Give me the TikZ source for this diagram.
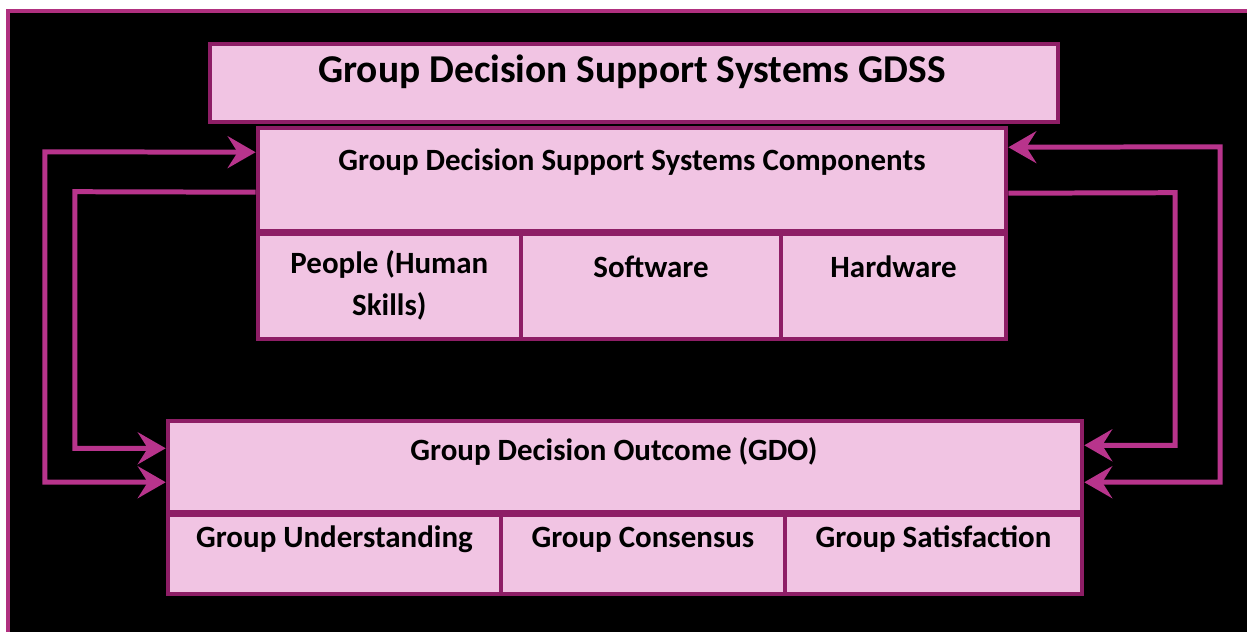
\documentclass[tikz,border=0pt]{standalone}
\usepackage{fontspec}
\setmainfont{Carlito}
\usetikzlibrary{arrows.meta}
\definecolor{frameline}{HTML}{B0307F}
\definecolor{boxfill}{HTML}{F1C4E3}
\definecolor{boxline}{HTML}{8E1E66}
\definecolor{flowline}{HTML}{B8348C}
\tikzset{
  box/.style={draw=boxline, fill=boxfill, line width=4pt, rectangle, inner sep=0pt, anchor=north west},
  txt/.style={anchor=base, text=black, inner sep=0pt, font=\bfseries\fontsize{31}{42}\selectfont},
  flow/.style={draw=flowline, line width=5pt, line join=miter},
  >={Stealth[length=28pt, width=32pt, inset=10pt]}
}
\begin{document}
\begin{tikzpicture}[x=1pt,y=-1pt]
  % page and dark panel with its framing edge
  \fill[white] (0,0) rectangle (1249,633);
  \fill[black] (8,11) rectangle (1249,633);
  \draw[frameline, line width=4pt] (8,633) -- (8,11) -- (1249,11);
  \useasboundingbox (0,0) rectangle (1249,633);

  % boxes
  \node[box, minimum width=850pt, minimum height=78pt] (title) at (208,42) {};
  \node[box, minimum width=750pt, minimum height=103pt] (comp) at (256,126.5) {};
  \node[box, minimum width=264pt, minimum height=106pt] (people) at (256,232) {};
  \node[box, minimum width=260pt, minimum height=106pt] (soft) at (520,232) {};
  \node[box, minimum width=226pt, minimum height=106pt] (hard) at (780,232) {};
  \node[box, minimum width=916pt, minimum height=91pt] (gdo) at (166,420) {};
  \node[box, minimum width=334pt, minimum height=79pt] (und) at (166,514) {};
  \node[box, minimum width=284pt, minimum height=79pt] (cons) at (500,514) {};
  \node[box, minimum width=298pt, minimum height=79pt] (sat) at (784,514) {};

  % texts (base anchor = last line's baseline)
  \node[txt, font=\bfseries\fontsize{39.5}{44}\selectfont] (t0) at (633,83) {Group Decision Support Systems GDSS};
  \node[txt] (t1) at (comp.north |- 0,171) {Group Decision Support Systems Components};
  \node[txt, align=center] (t2) at (people.north |- 0,316) {People (Human\\Skills)};
  \node[txt] (t3) at (soft.north |- 0,278) {Software};
  \node[txt] (t4) at (hard.north |- 0,278) {Hardware};
  \node[txt] (t5) at (615,461) {Group Decision Outcome (GDO)};
  \node[txt] (t6) at (und.north |- 0,548) {Group Understanding};
  \node[txt] (t7) at (cons.north |- 0,548) {Group Consensus};
  \node[txt] (t8) at (sat.north |- 0,548) {Group Satisfaction};

  % feedback connectors between components and outcome
  \draw[flow, <->] ([yshift=-26pt]comp.north west) -- (45,152) -- (45,483) -- ([yshift=-63pt]gdo.north west);
  \draw[flow, ->] ([yshift=-66pt]comp.north west) -- (75,192) -- (75,449) -- ([yshift=-29pt]gdo.north west);
  \draw[flow, <->] ([yshift=-21pt]comp.north east) -- (1222,147) -- (1222,483) -- ([yshift=-63pt]gdo.north east);
  \draw[flow, ->] ([yshift=-67pt]comp.north east) -- (1177,193) -- (1177,446) -- ([yshift=-26pt]gdo.north east);
\end{tikzpicture}
\end{document}
